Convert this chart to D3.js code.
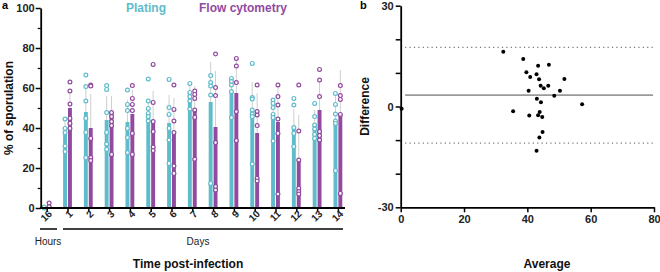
<!DOCTYPE html>
<html><head><meta charset="utf-8">
<script src="https://cdn.jsdelivr.net/npm/d3@7"></script>
<style>
body{margin:0;background:#fff;}
svg{display:block;font-family:"Liberation Sans",Arial,sans-serif;}
</style></head>
<body><svg id="c" width="660" height="272"></svg>
<script>
// ---- Panel a data ----
const categories = ["16","1","2","3","4","5","6","7","8","9","10","11","12","13","14"];
const platingMean = [0.5, 37, 48, 44, 43, 46, 42.5, 58, 53, 58.5, 48, 46.5, 40.5, 42, 44];
const flowMean    = [1.5, 50, 40, 48, 47, 43.5, 38, 49, 40.5, 57.5, 37.5, 43, 24.5, 49, 47];
const platingSD   = [0.5, 7, 14, 12, 11, 8, 14, 5, 20, 7, 15, 7, 9, 7, 14];
const flowSD      = [1, 9, 17, 8, 12, 15, 17, 12, 28, 16, 20, 18, 22, 14, 22];
const platingPts = [
  [0, 0.5],
  [44.5, 39.8, 37.7, 31, 28.2],
  [66.5, 60.7, 53.5, 44.8, 37.8, 25.2],
  [61.2, 59.3, 47.7, 37.8, 32, 29.3],
  [59, 51.8, 48.7, 39.8, 35.2, 27.7],
  [64.5, 53.5, 49.8, 47.3, 45.7, 43.5],
  [64.3, 50.2, 46.8, 39.8, 34, 22.3],
  [62.3, 57.8, 55.7, 53.5, 49.5],
  [66.2, 62.7, 61, 56.5, 12.3],
  [64.8, 63.2, 61.5, 58.2, 45.2],
  [72.3, 55.2, 54.5, 49, 47, 45.7, 22],
  [54, 52.3, 50.2, 46.8, 45.2, 33.5],
  [54.8, 51.5, 40.2, 37.3, 30.7],
  [52.3, 45.7, 41.5, 39.5, 36.8, 34.8],
  [57.3, 51.8, 47, 43.5, 42.3, 18.7]
];
const flowPts = [
  [0.7, 2.5],
  [63, 58.5, 52, 44.8, 42.3, 39.8],
  [61.5, 61, 34.8, 25.2, 23.7],
  [47.7, 45.7, 43.2, 41.2, 26.8],
  [61.2, 54.8, 51.8, 48.7, 37.3, 26.8],
  [71.8, 52.8, 43.2, 38.2, 30.5, 28.7],
  [61.5, 49.3, 43.5, 37.7, 21, 17.3],
  [58.5, 56.8, 54.8, 49, 45.3, 24.4],
  [77, 60.2, 56.2, 32.7, 10.7, 9],
  [74.8, 71, 62.7, 48.2, 33.7],
  [61.5, 48.2, 46.5, 41.2, 14.8, 13.5],
  [61.5, 55.7, 51.5, 44.5, 37.3, 7],
  [61.5, 38.5, 24, 9.8, 8.2, 7],
  [69.3, 64, 55.7, 38.2, 36.2, 34],
  [61.2, 56.2, 54.3, 46.8, 7.3]
];
const yTicksA = [0, 20, 40, 60, 80, 100];
const yMinorA = [10, 30, 50, 70, 90];

// ---- Panel b data ----
const avgVals  = [0.3, 32.4, 38.7, 39.7, 40.9, 42.9, 43.4, 46.8, 43.7, 51.7, 40.4, 44.2, 45.2, 46.6, 50.3, 48.5, 43.0, 44.3, 57.3, 35.5, 40.6, 43.9, 43.4, 44.7, 44.8, 43.8, 42.9];
const diffVals = [-0.7, 16.3, 14.1, 10.2, 8.8, 9.6, 12.1, 12.4, 8.1, 8.2, 4.7, 6.2, 5.4, 6.2, 4.7, 3.2, 2.3, 1.3, 0.7, -1.4, -2.7, -1.6, -2.6, -3.1, -7.6, -9.2, -13.2];
const bias = 3.4, loaUpper = 17.6, loaLower = -10.9;
const yTicksB = [-30, -20, -10, 0, 10, 20, 30];
const yLabelsB = [-30, 0, 30];
const xTicksB = [0, 20, 40, 60, 80];

const CYAN = "#5fbccb", PURPLE = "#914a9f";
const svg = d3.select("#c");

// ===== Panel a =====
const yL = d3.scaleLinear([0, 100], [208, 8]);
const xL = d3.scalePoint(categories, [46.7, 337.9]);
const inner = d3.scaleBand(["plating", "flow"], [-4.4, 4.4]).paddingInner(0.2);
const series = [
  {key: "plating", mean: platingMean, sd: platingSD, pts: platingPts, color: CYAN},
  {key: "flow", mean: flowMean, sd: flowSD, pts: flowPts, color: PURPLE}
];
const gA = svg.append("g");
series.forEach(s => {
  const cx = c => xL(c) + inner(s.key) + inner.bandwidth() / 2;
  // error bars
  gA.append("g").selectAll("line").data(categories).join("line")
    .attr("x1", cx).attr("x2", cx)
    .attr("y1", (c, i) => yL(s.mean[i])).attr("y2", (c, i) => yL(s.mean[i] + s.sd[i]))
    .attr("stroke", "#cfcfcf").attr("stroke-width", 1);
  gA.append("g").selectAll("rect").data(categories).join("rect")
    .attr("x", c => xL(c) + inner(s.key)).attr("width", inner.bandwidth())
    .attr("y", (c, i) => yL(s.mean[i])).attr("height", (c, i) => yL(0) - yL(s.mean[i]))
    .attr("fill", s.color);
});
series.forEach(s => {
  const cx = c => xL(c) + inner(s.key) + inner.bandwidth() / 2;
  const pts = [];
  categories.forEach((c, i) => s.pts[i].forEach(v => pts.push({c, v})));
  gA.append("g").selectAll("circle").data(pts).join("circle")
    .attr("cx", d => cx(d.c)).attr("cy", d => yL(d.v)).attr("r", 1.9)
    .attr("fill", "#fff").attr("stroke", s.color).attr("stroke-width", 1.2);
});

// y axis
const axY = gA.append("g").attr("transform", "translate(40.7,0)")
  .call(d3.axisLeft(yL).tickValues(yTicksA).tickSize(5).tickSizeOuter(0).tickPadding(1));
axY.select(".domain").attr("stroke-width", 1.8);
axY.selectAll(".tick line").attr("stroke-width", 1.5);
axY.selectAll("text").attr("font-size", 11).attr("font-weight", "bold").attr("fill", "#222");
const axYm = gA.append("g").attr("transform", "translate(40.7,0)")
  .call(d3.axisLeft(yL).tickValues(yMinorA).tickSize(3).tickSizeOuter(0).tickFormat(""));
axYm.select(".domain").remove();
axYm.selectAll(".tick line").attr("stroke-width", 1.2);

// x axis
gA.append("line").attr("x1", 40).attr("x2", 345).attr("y1", 208).attr("y2", 208)
  .attr("stroke", "#000").attr("stroke-width", 1.8);
const axX = gA.append("g").attr("transform", "translate(0,208)")
  .call(d3.axisBottom(xL).tickSize(4).tickSizeOuter(0));
axX.select(".domain").remove();
axX.selectAll(".tick line").attr("stroke-width", 1.5);
axX.selectAll("text").attr("font-size", 10).attr("font-weight", "bold").attr("fill", "#222")
  .attr("text-anchor", "end").attr("dy", "0.35em")
  .attr("transform", "translate(3,4) rotate(-45)").attr("y", 0).attr("x", 0);

// grouping lines
gA.append("line").attr("x1", 40).attr("x2", 57).attr("y1", 229).attr("y2", 229).attr("stroke", "#000").attr("stroke-width", 1.5);
gA.append("line").attr("x1", 63).attr("x2", 343).attr("y1", 229).attr("y2", 229).attr("stroke", "#000").attr("stroke-width", 1.5);
gA.append("text").attr("x", 48).attr("y", 245).attr("text-anchor", "middle").attr("font-size", 10).attr("fill", "#222").text("Hours");
gA.append("text").attr("x", 198).attr("y", 245).attr("text-anchor", "middle").attr("font-size", 10).attr("fill", "#222").text("Days");
gA.append("text").attr("x", 188).attr("y", 268).attr("text-anchor", "middle").attr("font-size", 12).attr("font-weight", "bold").attr("fill", "#111").text("Time post-infection");
gA.append("text").attr("transform", "translate(12.5,108) rotate(-90)").attr("text-anchor", "middle")
  .attr("font-size", 12).attr("font-weight", "bold").attr("fill", "#111").text("% of sporulation");
gA.append("text").attr("x", 126).attr("y", 12).attr("font-size", 12).attr("font-weight", "bold").attr("fill", CYAN).text("Plating");
gA.append("text").attr("x", 199).attr("y", 12).attr("font-size", 12).attr("font-weight", "bold").attr("fill", PURPLE).text("Flow cytometry");
svg.append("text").attr("x", 2).attr("y", 9).attr("font-size", 11).attr("font-weight", "bold").text("a");
svg.append("text").attr("x", 360).attr("y", 9).attr("font-size", 11).attr("font-weight", "bold").text("b");

// ===== Panel b =====
const xR = d3.scaleLinear([0, 80], [400.7, 654]);
const yR = d3.scaleLinear([-30, 30], [207.3, 5.7]);
const gB = svg.append("g");
gB.append("line").attr("x1", xR(1.4)).attr("x2", xR(79.7)).attr("y1", yR(bias)).attr("y2", yR(bias))
  .attr("stroke", "#9a9a9a").attr("stroke-width", 1.6);
[loaUpper, loaLower].forEach(v => {
  gB.append("line").attr("x1", xR(1.4)).attr("x2", xR(79.7)).attr("y1", yR(v)).attr("y2", yR(v))
    .attr("stroke", "#777").attr("stroke-width", 1.1).attr("stroke-dasharray", "1.2,3.2");
});
gB.append("g").selectAll("circle").data(avgVals).join("circle")
  .attr("cx", d => xR(d)).attr("cy", (d, i) => yR(diffVals[i])).attr("r", 2).attr("fill", "#000");

const byR = gB.append("g").attr("transform", "translate(400.7,0)")
  .call(d3.axisLeft(yR).tickValues(yTicksB).tickSize(5).tickSizeOuter(0).tickPadding(2)
    .tickFormat(d => yLabelsB.includes(d) ? d : ""));
byR.select(".domain").attr("stroke-width", 1.8);
byR.selectAll(".tick line").attr("stroke-width", 1.5);
byR.selectAll("text").attr("font-size", 11).attr("font-weight", "bold").attr("fill", "#222");
const bxR = gB.append("g").attr("transform", "translate(0,207.3)")
  .call(d3.axisBottom(xR).tickValues(xTicksB).tickSize(5).tickSizeOuter(0).tickPadding(3));
bxR.select(".domain").attr("stroke-width", 1.8);
bxR.selectAll(".tick line").attr("stroke-width", 1.5);
bxR.selectAll("text").attr("font-size", 11).attr("font-weight", "bold").attr("fill", "#222");
gB.append("text").attr("x", 547).attr("y", 268).attr("text-anchor", "middle").attr("font-size", 12).attr("font-weight", "bold").attr("fill", "#111").text("Average");
gB.append("text").attr("transform", "translate(369,106.5) rotate(-90)").attr("text-anchor", "middle")
  .attr("font-size", 12).attr("font-weight", "bold").attr("fill", "#111").text("Difference");
</script></body></html>
